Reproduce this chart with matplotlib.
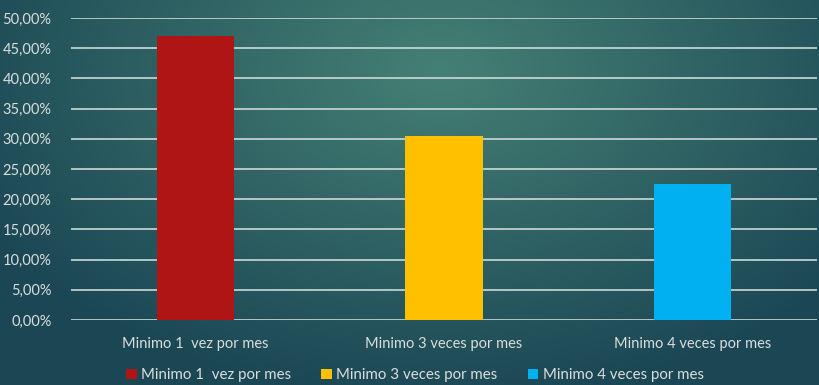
import matplotlib.pyplot as plt
import numpy as np
from matplotlib.patches import Patch
from matplotlib.ticker import FuncFormatter

# Frequency categories and share of responses (%)
categories = ['Minimo 1  vez por mes', 'Minimo 3 veces por mes', 'Minimo 4 veces por mes']
shares = [47.0, 30.5, 22.5]
bar_colors = ['#B01515', '#FFC000', '#00B0F0']
y_ticks = [0, 5, 10, 15, 20, 25, 30, 35, 40, 45, 50]

text_color = '#D9DEDC'
grid_color = '#CBD9D6'
plt.rcParams['font.family'] = ['Lato', 'DejaVu Sans']

fig = plt.figure(figsize=(8.19, 3.85), dpi=100)

# Radial teal gradient behind everything
bg = fig.add_axes([0, 0, 1, 1], zorder=0)
h, w = 385, 819
yy, xx = np.mgrid[0:h, 0:w]
r = np.sqrt(((xx - 440) / 520.0) ** 2 + ((yy - 70) / 330.0) ** 2)
r = np.clip(r, 0, 1)
inner = np.array([0x45, 0x80, 0x74]) / 255.0
outer = np.array([0x1B, 0x47, 0x55]) / 255.0
img = inner[None, None, :] * (1 - r[..., None]) + outer[None, None, :] * r[..., None]
bg.imshow(img, aspect='auto', extent=[0, 1, 0, 1], origin='upper')
bg.axis('off')

ax = fig.add_axes([71 / 819, 1 - 320 / 385, (817 - 71) / 819, (320 - 18) / 385], zorder=1)
ax.patch.set_alpha(0)

x = np.arange(len(categories))
ax.bar(x, shares, width=0.31, color=bar_colors, zorder=3)

ax.set_xlim(-0.5, len(categories) - 0.5)
ax.set_ylim(0, 50)
ax.set_yticks(y_ticks)
ax.yaxis.set_major_formatter(FuncFormatter(lambda v, p: f'{v:.2f}%'.replace('.', ',')))
ax.set_xticks(x)
ax.set_xticklabels(categories)
ax.grid(axis='y', color=grid_color, linewidth=1.2, zorder=1)
ax.tick_params(axis='both', length=0, colors=text_color, labelsize=10.5)
ax.tick_params(axis='y', pad=14)
ax.tick_params(axis='x', pad=12)
for s in ax.spines.values():
    s.set_visible(False)

handles = [Patch(facecolor=c, label=l) for c, l in zip(bar_colors, categories)]
leg = fig.legend(handles=handles, loc='center', bbox_to_anchor=(415 / 819, 1 - 375 / 385),
                 ncol=3, frameon=False, fontsize=10.8, handlelength=0.7, handleheight=0.7,
                 handletextpad=0.3, columnspacing=2.0)
for t in leg.get_texts():
    t.set_color(text_color)

fig.savefig('out.png', dpi=100)
